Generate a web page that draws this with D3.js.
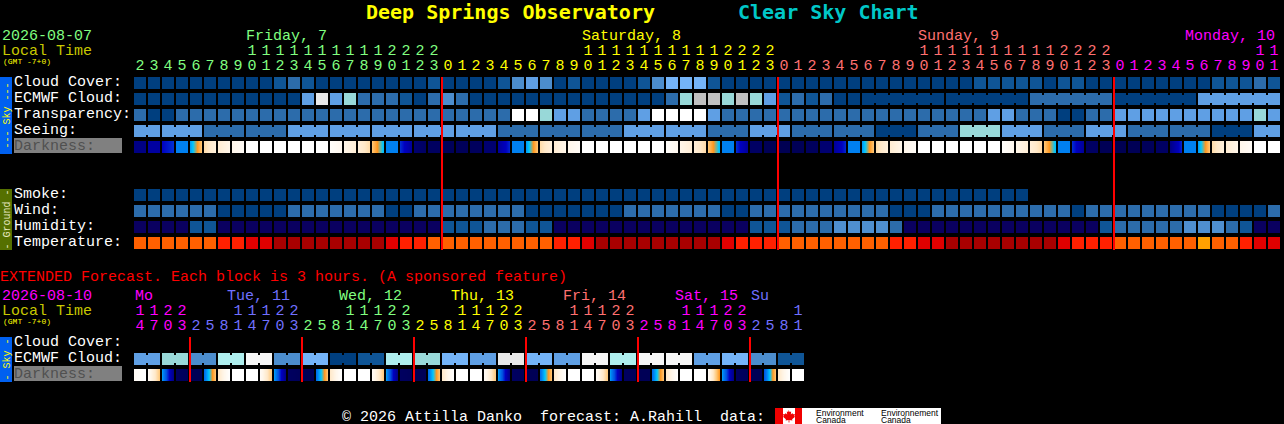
<!DOCTYPE html>
<html>
<head>
<meta charset="utf-8">
<title>Deep Springs Observatory Clear Sky Chart</title>
<script src="https://cdn.jsdelivr.net/npm/d3@7"></script>
<style>
  html, body { margin: 0; padding: 0; background: #000; overflow: hidden; }
  svg { display: block; }
  text { font-family: "Liberation Mono", "DejaVu Sans Mono", monospace; white-space: pre; }
  text.title { font-family: "DejaVu Sans Mono", monospace; }
  rect { shape-rendering: crispEdges; }
</style>
</head>
<body>
<div id="chart"></div>
<script>
// hours of each block
const mainHours = [2,3,4,5,6,7,8,9,10,11,12,13,14,15,16,17,18,19,20,21,22,23,
  0,1,2,3,4,5,6,7,8,9,10,11,12,13,14,15,16,17,18,19,20,21,22,23,
  0,1,2,3,4,5,6,7,8,9,10,11,12,13,14,15,16,17,18,19,20,21,22,23,
  0,1,2,3,4,5,6,7,8,9,10,11];
const extHours = [14,17,20,23,
  2,5,8,11,14,17,20,23, 2,5,8,11,14,17,20,23, 2,5,8,11,14,17,20,23,
  2,5,8,11,14,17,20,23, 2,5,8,11,14,17,20,23,
  2,5,8,11];

const mainDays = ["Friday, 7", "Saturday, 8", "Sunday, 9", "Monday, 10"];
const mainDayColors = ["#80ff80", "#ffff00", "#ff7070", "#ff00ff"];
const extDays = ["Mo", "Tue, 11", "Wed, 12", "Thu, 13", "Fri, 14", "Sat, 15", "Su"];
const extDayColors = ["#ff00ff", "#7070ff", "#80ff80", "#ffff00", "#ff7070", "#ff00ff", "#7070ff"];

// sky levels, index into skyColors
const cloudCover = [0,0,0,0,0,0,0,0,0,0,1,2,1,0,0,0,0,0,0,0,0,1,
  0,0,0,0,1,3,4,3,0,1,0,0,0,0,1,3,5,5,5,1,0,0,0,0,
  0,0,0,0,0,0,0,0,0,0,0,0,0,0,1,1,1,1,1,0,1,1,0,0,
  0,0,0,0,0,0,0,1,1,1,2,1];
const ecmwfCloud = [0,0,0,0,0,0,0,0,0,0,0,0,4,9,4,6,2,2,2,1,0,2,
  3,2,0,0,0,0,0,0,0,0,0,0,0,0,0,0,2,6,8,8,6,8,6,4,
  1,2,1,2,0,0,0,0,0,0,0,0,0,0,0,0,0,0,2,2,2,2,2,2,
  0,0,0,0,0,0,4,4,4,4,4,4];
const transparency = [2,0,0,2,2,2,2,2,2,2,2,2,2,2,2,2,2,2,2,2,2,2,
  2,2,2,2,2,11,11,6,4,4,2,2,2,2,4,11,11,11,11,4,2,2,2,2,
  2,2,2,2,2,2,2,2,2,2,2,2,2,2,2,4,4,2,2,2,0,0,2,2,
  4,4,4,4,4,4,4,4,4,4,6,4];
const seeing = [4,4,4,4,4,2,2,2,2,2,2,4,4,4,4,4,4,4,4,4,4,4,
  4,4,4,4,2,2,2,2,2,2,2,2,2,4,4,4,4,4,4,2,2,2,4,4,
  4,2,2,2,2,2,2,0,0,0,2,2,2,6,6,6,4,4,4,2,2,2,4,4,
  4,2,2,2,2,2,2,0,0,0,4,4];
const smoke = [0,0,0,0,0,0,0,0,0,0,0,0,0,0,0,0,0,0,0,0,0,0,
  0,0,0,0,0,0,0,0,0,0,0,0,0,0,0,0,0,0,0,0,0,0,0,0,
  0,0,0,0,0,0,0,0,0,0,0,0,0,0,0,0,0,0];
const wind = [2,2,2,2,2,2,0,0,0,0,0,2,2,2,2,2,2,2,0,0,2,2,
  2,2,2,2,2,2,0,0,0,0,0,0,0,2,2,2,2,2,2,2,0,0,2,2,
  2,2,2,2,2,2,2,2,0,0,0,2,2,2,2,2,2,2,2,2,2,0,2,2,
  2,2,2,2,2,2,2,0,0,0,0,2];
const humidity = [0,0,0,0,1,1,0,0,0,0,0,0,0,0,0,0,0,0,0,0,0,0,
  1,1,1,2,2,2,1,1,0,0,0,0,0,0,0,0,0,0,0,0,0,0,1,1,
  1,2,2,2,3,3,3,3,2,0,0,0,0,0,0,0,0,0,0,0,0,0,0,1,
  2,2,2,2,2,3,3,3,2,1,0,0];
const temperature = [1,1,1,1,1,1,2,2,3,3,4,4,4,4,4,4,4,4,3,2,2,1,
  1,1,1,1,1,1,1,1,2,2,3,4,4,4,4,4,4,4,4,4,3,2,2,2,
  1,1,1,1,1,1,1,1,2,2,3,3,4,4,4,4,4,4,4,4,3,2,2,2,
  1,1,1,1,1,1,0,1,1,2,3,3];
const extEcmwf = [4,4,6,6,3,3,7,7,10,10,3,3,5,5,0,0,1,1,7,7,6,6,5,5,
  4,4,9,9,5,5,4,4,10,10,7,7,10,10,10,10,4,4,5,5,3,3,1,1];

// darkness at the left and right edge of each block, position on darkRamp
const darkFrom = [1.5,2.2,3,5,5.3,8.6,9.3,10,11,11,11,11,11,11,10.8,10,9.5,8,5,3.6,1,0.5,
  0.3,0.3,0.4,1,2,5,5.3,8.6,9.3,10,11,11,11,11,11,11,10.8,10,9.5,8,5,3.6,0.6,0.2,
  0.1,0.2,0.4,1,2,5,5.3,8.6,9.3,10,11,11,11,11,11,11,10.8,10,9.5,8,5,3.6,0.6,0.2,
  0.1,0.2,0.3,0.6,1.5,5,5.3,8.6,9.3,10,11,11];
const darkTo = [1.5,2.2,3.6,5,8,9.6,10,10.6,11,11,11,11,11,11,10.2,9.4,8.6,5.8,5,2,0.6,0.5,
  0.3,0.3,0.4,1,3.5,5,8,9.6,10,10.6,11,11,11,11,11,11,10.2,9.4,8.6,5.8,5,2,0.6,0.2,
  0.1,0.2,0.4,1,3.5,5,8,9.6,10,10.6,11,11,11,11,11,11,10.2,9.4,8.6,5.8,5,2,0.6,0.2,
  0.1,0.2,0.3,0.6,3.5,5,8,9.6,10,10.6,11,11];
const extDarkFrom = [10.5,10.6,5.5,0.5, 0.2,4.5,9,11,11,10.6,5.5,0.5, 0.2,4.5,9,11,11,10.6,5.5,0.5,
  0.2,4.5,9,11,11,10.6,5.5,0.5, 0.2,4.5,9,11,11,10.6,5.5,0.5, 0.2,4.5,9,11,11,10.6,5.5,0.5, 0.2,4,9,11];
const extDarkTo = [11,8,1.5,0.3, 0.2,8,11,11,11,8,1.5,0.3, 0.2,8,11,11,11,8,1.5,0.3,
  0.2,8,11,11,11,8,1.5,0.3, 0.2,8,11,11,11,8,1.5,0.3, 0.2,8,11,11,11,6.9,1.5,0.3, 0.2,8,11,11];

const skyColors = ["#003f7f","#0f5596","#2c6cab","#4c8dcd","#5f9fe4","#74b4f8",
  "#98d8d8","#aeeeee","#c0c0c0","#e8e8e8","#f6f6f6","#ffffff"];
const humidColors = ["#0a0060","#0f5596","#2c6cab","#4f8fd0"];
const tempColors = ["#ffa000","#ff6000","#ff2000","#e00000","#a80000"];
const darkRamp = ["#000050","#000070","#000098","#0000c0","#0050e0","#0080f0",
  "#00c8ff","#ff9820","#ffc878","#ffe8c8","#fff6ea","#ffffff"];

const mainRows = ["Cloud Cover:", "ECMWF Cloud:", "Transparency:", "Seeing:", "Darkness:"];
const groundRows = ["Smoke:", "Wind:", "Humidity:", "Temperature:"];
const extRows = ["Cloud Cover:", "ECMWF Cloud:", "Darkness:"];

const svg = d3.select("#chart").append("svg")
  .attr("width", 1284)
  .attr("height", 424);

svg.append("rect").attr("width", 1284).attr("height", 424).attr("fill", "#000");

// band scales, 14px step with 12px cells
const bandX = n => d3.scaleBand().domain(d3.range(n))
  .range([133, 133 + n * 14]).paddingInner(2 / 14).paddingOuter(1 / 14);
const bandY = (rows, top) => d3.scaleBand().domain(rows)
  .range([top, top + rows.length * 16]).paddingInner(4 / 16).paddingOuter(2 / 16);

const x = bandX(mainHours.length);
const xExt = bandX(extHours.length);
const yMain = bandY(mainRows, 75);
const yGround = bandY(groundRows, 187);
const yExt = bandY(extRows, 335);

const sky = d3.scaleOrdinal(d3.range(skyColors.length), skyColors);
const humid = d3.scaleOrdinal(d3.range(humidColors.length), humidColors);
const temp = d3.scaleOrdinal(d3.range(tempColors.length), tempColors);
const dark = d3.scaleLinear().domain(d3.range(darkRamp.length)).range(darkRamp);

// split the hours into days: a new day starts where the hour wraps
function dayIndex(hours) {
  let day = 0;
  return hours.map((h, i) => {
    if (i > 0 && h < hours[i - 1]) day++;
    return day;
  });
}

function label(str, px, py, color, size = 15, weight = "normal") {
  return svg.append("text")
    .attr("x", px).attr("y", py)
    .attr("fill", color)
    .attr("font-size", size)
    .attr("font-weight", weight)
    .text(str);
}

// row of cells; joins = [first, length] of blocks bridged when equal
function cellRow(values, scaleX, yPos, color, joins = []) {
  const g = svg.append("g");
  g.selectAll("rect.cell").data(values).enter().append("rect")
    .attr("class", "cell")
    .attr("x", (d, i) => scaleX(i))
    .attr("y", yPos)
    .attr("width", scaleX.bandwidth())
    .attr("height", 12)
    .attr("fill", d => color(d));

  joins.forEach(([first, len]) => {
    d3.range(first, Math.min(first + len - 1, values.length - 1)).forEach(i => {
      if (values[i] !== values[i + 1]) return;
      g.append("rect")
        .attr("x", scaleX(i) + scaleX.bandwidth())
        .attr("y", yPos + 2)
        .attr("width", scaleX.step() - scaleX.bandwidth())
        .attr("height", 8)
        .attr("fill", color(values[i]));
    });
  });
}

// darkness cells are shaded one pixel column at a time
function darkRow(from, to, scaleX, yPos) {
  const g = svg.append("g");
  from.forEach((v, i) => {
    const w = scaleX.bandwidth();
    g.selectAll(null).data(d3.range(w)).enter().append("rect")
      .attr("x", s => scaleX(i) + s)
      .attr("y", yPos)
      .attr("width", 1)
      .attr("height", 12)
      .attr("fill", s => dark(v + (to[i] - v) * (s + 0.5) / w));
  });
}

function hourLabels(hours, scaleX, colors, yTens, yOnes) {
  const days = dayIndex(hours);
  const mid = scaleX.bandwidth() / 2;
  hours.forEach((h, i) => {
    const px = scaleX(i) + mid;
    if (h >= 10) {
      label(Math.floor(h / 10), px, yTens, colors[days[i]]).attr("text-anchor", "middle");
    }
    label(h % 10, px, yOnes, colors[days[i]]).attr("text-anchor", "middle");
  });
}

function sideBar(yTop, yBottom, color, str, textColor) {
  svg.append("rect")
    .attr("x", 0).attr("y", yTop)
    .attr("width", 12).attr("height", yBottom - yTop)
    .attr("fill", color);
  svg.append("text")
    .attr("transform", `translate(9.5,${(yTop + yBottom) / 2}) rotate(-90)`)
    .attr("text-anchor", "middle")
    .attr("fill", textColor)
    .attr("font-size", 10)
    .text(str);
}

function rowLabels(rows, scaleY) {
  rows.forEach(r => {
    const yPos = scaleY(r);
    if (r === "Darkness:") {
      svg.append("rect")
        .attr("x", 14).attr("y", yPos - 3)
        .attr("width", 108).attr("height", 15)
        .attr("fill", "#808080");
      label(r, 14, yPos + 9, "#505050");
    } else {
      label(r, 14, yPos + 9, "#ffffff");
    }
  });
}

// =========================
// TITLE
// =========================
label("Deep Springs Observatory", 366, 19, "#ffff00", 20, "bold").attr("class", "title");
label("Clear Sky Chart", 738, 19, "#00c8c8", 20, "bold").attr("class", "title");

// =========================
// MAIN CHART
// =========================
label("2026-08-07", 2, 40, mainDayColors[0]);
label("Local Time", 2, 55, "#c8c800");
label("(GMT -7+0)", 3, 64, "#ffff00", 8);

const midnights = mainHours.map((h, i) => (h === 0 ? i : -1)).filter(i => i >= 0);
mainDays.forEach((name, d) => {
  const start = d === 0 ? midnights[0] - 24 : midnights[d - 1];
  const px = Math.min(x(0) + start * x.step() + 140, 1275 - name.length * 9);
  label(name, px, 40, mainDayColors[d]);
});
hourLabels(mainHours, x, mainDayColors, 55, 70);

rowLabels(mainRows, yMain);
rowLabels(groundRows, yGround);
sideBar(77, 154, "#0060f0", "--- Sky ---", "#ffff00");
sideBar(189, 250, "#557000", "- Ground -", "#e8e8c0");

const seeingJoins = [[0, 2]].concat(d3.range(2, seeing.length, 3).map(i => [i, 3]));
const ecmwfJoins = d3.range(52, ecmwfCloud.length, 6).map(i => [i, 6]);

cellRow(cloudCover, x, yMain("Cloud Cover:"), sky);
cellRow(ecmwfCloud, x, yMain("ECMWF Cloud:"), sky, ecmwfJoins);
cellRow(transparency, x, yMain("Transparency:"), sky);
cellRow(seeing, x, yMain("Seeing:"), sky, seeingJoins);
darkRow(darkFrom, darkTo, x, yMain("Darkness:"));

cellRow(smoke, x, yGround("Smoke:"), sky);
cellRow(wind, x, yGround("Wind:"), sky);
cellRow(humidity, x, yGround("Humidity:"), humid);
cellRow(temperature, x, yGround("Temperature:"), temp);

// midnight lines
svg.selectAll("rect.midnight").data(midnights).enter().append("rect")
  .attr("class", "midnight")
  .attr("x", i => x(i) - 1)
  .attr("y", 77)
  .attr("width", 2)
  .attr("height", 173)
  .attr("fill", "#ff0000");

// =========================
// EXTENDED FORECAST
// =========================
label("EXTENDED Forecast. Each block is 3 hours. (A sponsored feature)", 0, 281, "#ff0000");
label("2026-08-10", 2, 300, extDayColors[0]);
label("Local Time", 2, 315, "#c8c800");
label("(GMT -7+0)", 3, 324, "#ffff00", 8);

const extDayOf = dayIndex(extHours);
extDays.forEach((name, d) => {
  const first = extDayOf.indexOf(d);
  const inset = name.length > 2 ? 37 : 1;
  label(name, xExt(first) + inset, 300, extDayColors[d]);
});
hourLabels(extHours, xExt, extDayColors, 315, 330);

rowLabels(extRows, yExt);
sideBar(337, 382, "#0060f0", "- Sky -", "#ffff00");

cellRow(extEcmwf, xExt, yExt("ECMWF Cloud:"), sky, d3.range(0, extEcmwf.length, 2).map(i => [i, 2]));
darkRow(extDarkFrom, extDarkTo, xExt, yExt("Darkness:"));

svg.selectAll("rect.extMidnight")
  .data(d3.range(1, extDays.length).map(d => extDayOf.indexOf(d)))
  .enter().append("rect")
  .attr("class", "extMidnight")
  .attr("x", i => xExt(i) - 1)
  .attr("y", 337)
  .attr("width", 2)
  .attr("height", 45)
  .attr("fill", "#ff0000");

// =========================
// FOOTER
// =========================
label("\u00a9 2026 Attilla Danko  forecast: A.Rahill  data:", 342, 421, "#ffffff");

const logo = svg.append("g").attr("transform", "translate(775,408)");
logo.append("rect").attr("width", 166).attr("height", 16).attr("fill", "#fff");
logo.append("rect").attr("width", 8).attr("height", 16).attr("fill", "#f00000");
logo.append("rect").attr("x", 20).attr("width", 7).attr("height", 16).attr("fill", "#f00000");
logo.append("path")
  .attr("d", "M13.5 2l1.2 2 1.5-.6-.4 3 1.6-1.4.5 1.3 2-.3-.6 2.2.8.6-3 2.4.3 1.3-3-.4v2.4h-.8v-2.4l-3 .4.3-1.3-3-2.4.8-.6-.6-2.2 2 .3.5-1.3 1.6 1.4-.4-3 1.5.6z")
  .attr("fill", "#f00000");
[[41, "Environment"], [106, "Environnement"]].forEach(([lx, str]) => {
  logo.append("text").attr("x", lx).attr("y", 8)
    .attr("font-size", 8.5).attr("fill", "#000")
    .style("font-family", "'Liberation Sans', sans-serif").text(str);
  logo.append("text").attr("x", lx).attr("y", 15)
    .attr("font-size", 8.5).attr("fill", "#000")
    .style("font-family", "'Liberation Sans', sans-serif").text("Canada");
});
</script>
</body>
</html>
